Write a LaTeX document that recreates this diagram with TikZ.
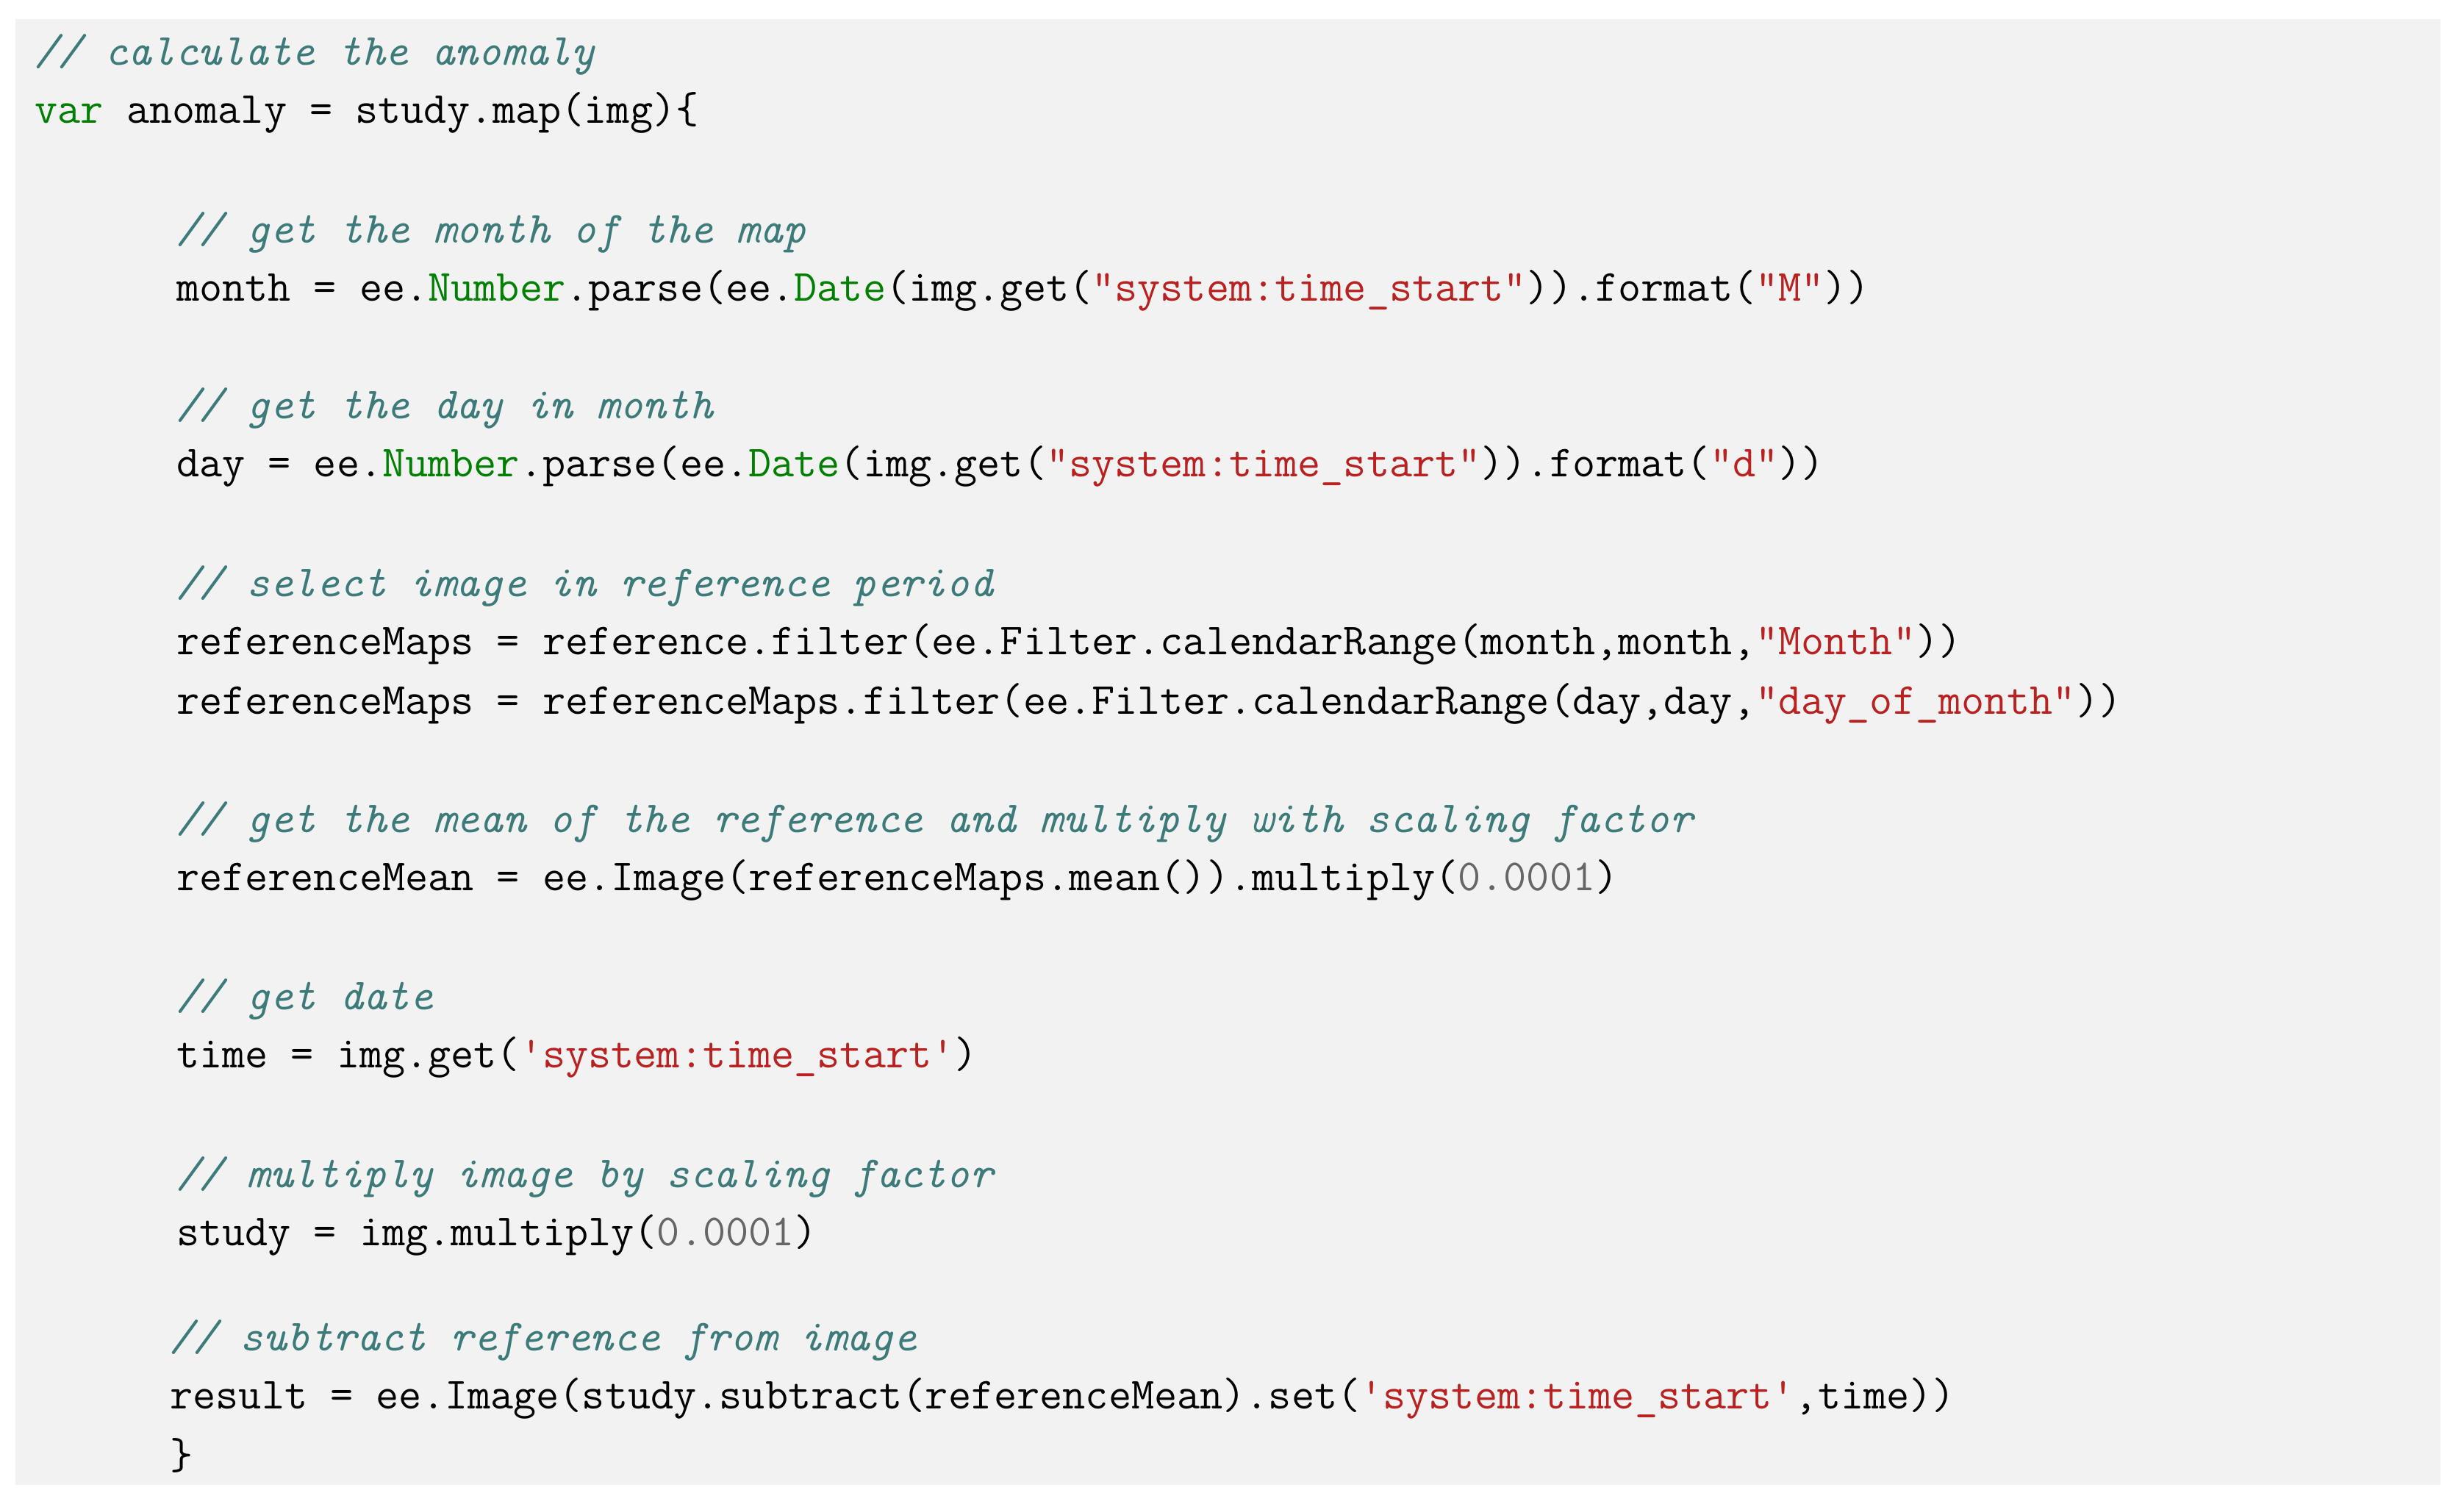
\documentclass[tikz,border=0pt]{standalone}
\usepackage{tikz}
\definecolor{codebg}{RGB}{242,242,242}
\definecolor{codecmt}{RGB}{61,122,122}
\definecolor{codekw}{RGB}{0,128,0}
\definecolor{codestr}{RGB}{186,33,33}
\definecolor{codenum}{RGB}{102,102,102}
\newcommand{\ccmt}[1]{{\color{codecmt}\itshape #1}}
\newcommand{\ckw}[1]{{\color{codekw}#1}}
\newcommand{\cstr}[1]{{\color{codestr}#1}}
\newcommand{\cnum}[1]{{\color{codenum}#1}}
\newcommand{\dq}{\textquotedbl}
\newcommand{\sq}{\textquotesingle}

\begin{document}
\begin{tikzpicture}[x=0.02138cm,y=-0.02138cm,
    line/.style={anchor=west,inner sep=0pt,font=\fontsize{17.2}{20}\selectfont\ttfamily}]
                \useasboundingbox (0,0) rectangle (1568,957);
                \fill[codebg] (10,12) rectangle (1553,945);
                \node[line] (l1) at (22,35) {\ccmt{// calculate the anomaly}};
                \node[line] (l2) at (22,72) {\ckw{var} anomaly = study.map(img)\{};
                \node[line] (l3) at (112,148) {\ccmt{// get the month of the map}};
                \node[line] (l4) at (112,185) {month = ee.\ckw{Number}.parse(ee.\ckw{Date}(img.get(\cstr{\dq system:time\_start\dq})).format(\cstr{\dq M\dq}))};
                \node[line] (l5) at (112,260) {\ccmt{// get the day in month}};
                \node[line] (l6) at (112,297) {day = ee.\ckw{Number}.parse(ee.\ckw{Date}(img.get(\cstr{\dq system:time\_start\dq})).format(\cstr{\dq d\dq}))};
                \node[line] (l7) at (112,373) {\ccmt{// select image in reference period}};
                \node[line] (l8) at (112,410) {referenceMaps = reference.filter(ee.Filter.calendarRange(month,month,\cstr{\dq Month\dq}))};
                \node[line] (l9) at (112,448) {referenceMaps = referenceMaps.filter(ee.Filter.calendarRange(day,day,\cstr{\dq day\_of\_month\dq}))};
                \node[line] (l10) at (112,523) {\ccmt{// get the mean of the reference and multiply with scaling factor}};
                \node[line] (l11) at (112,560) {referenceMean = ee.Image(referenceMaps.mean()).multiply(\cnum{0.0001})};
                \node[line] (l12) at (112,636) {\ccmt{// get date}};
                \node[line] (l13) at (112,673) {time = img.get(\cstr{\sq system:time\_start\sq})};
                \node[line] (l14) at (112,749) {\ccmt{// multiply image by scaling factor}};
                \node[line] (l15) at (112,786) {study = img.multiply(\cnum{0.0001})};
                \node[line] (l16) at (108,853) {\ccmt{// subtract reference from image}};
                \node[line] (l17) at (108,890) {result = ee.Image(study.subtract(referenceMean).set(\cstr{\sq system:time\_start\sq},time))};
                \node[line] (l18) at (108,926) {\}};
            \end{tikzpicture}
\end{document}
